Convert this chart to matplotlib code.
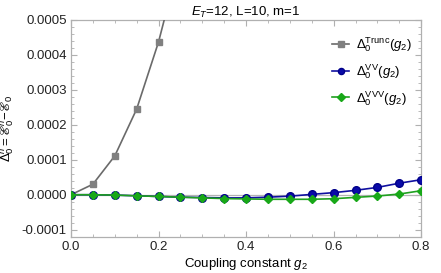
import numpy as np
import matplotlib
matplotlib.use("Agg")
from matplotlib import pyplot as plt
from matplotlib.ticker import MultipleLocator, FormatStrFormatter

plt.rcParams['font.family'] = ['Liberation Sans', 'DejaVu Sans']
plt.rcParams['mathtext.fontset'] = 'custom'
plt.rcParams['mathtext.rm'] = 'Liberation Sans'
plt.rcParams['mathtext.it'] = 'Liberation Sans:italic'
plt.rcParams['mathtext.fallback'] = 'stixsans'

g2 = [0.0, 0.05, 0.1, 0.15, 0.2, 0.25, 0.3, 0.35, 0.4, 0.45, 0.5, 0.55, 0.6, 0.65, 0.7, 0.75, 0.8]
trunc_g2 = [0.0, 0.05, 0.1, 0.15, 0.2, 0.25]
trunc = [0.0, 0.00003, 0.000111, 0.000245, 0.000437, 0.00068]
vv = [0.0, 0.0, -0.000001, -0.000003, -0.000005, -0.000007, -0.000008, -0.000009, -0.000009,
      -0.000007, -0.000004, 0.000001, 0.000006, 0.0000126, 0.000021, 0.000033, 0.000043]
vvv = [0.0, 0.0, -0.000001, -0.000003, -0.000005, -0.000007, -0.000009, -0.000011, -0.000012,
       -0.000013, -0.000013, -0.000013, -0.0000114, -0.0000075, -0.0000037, 0.000002, 0.0000115]

fig = plt.figure(figsize=(4.41, 2.73), dpi=100)
ax = fig.add_axes([0.161, 0.133, 0.794, 0.794])

ax.axhline(0, color='#b4b4b4', lw=0.9, zorder=1)
ax.plot(trunc_g2, trunc, color='#6a6a6a', lw=1.2, marker='s', ms=5, mfc='#808080', mec='#808080',
        label=r'$\Delta_0^{\mathrm{Trunc}}(g_2)$', zorder=3)
ax.plot(g2, vv, color='#1010a0', lw=1.2, marker='o', ms=5.5, mfc='#0a0aa8', mec='#00008a',
        label=r'$\Delta_0^{\mathrm{VV}}(g_2)$', zorder=4)
ax.plot(g2, vvv, color='#20a020', lw=1.2, marker='D', ms=4.5, mfc='#18a818', mec='#18a818',
        label=r'$\Delta_0^{\mathrm{VVV}}(g_2)$', zorder=5)

ax.set_xlim(0, 0.8)
ax.set_ylim(-0.00012, 0.0005)
ax.xaxis.set_major_locator(MultipleLocator(0.2))
ax.xaxis.set_minor_locator(MultipleLocator(0.05))
ax.yaxis.set_major_locator(MultipleLocator(0.0001))
ax.yaxis.set_minor_locator(MultipleLocator(0.00002))
ax.xaxis.set_major_formatter(FormatStrFormatter('%.1f'))
ax.yaxis.set_major_formatter(FormatStrFormatter('%.4f'))
ax.tick_params(which='both', direction='in', top=True, right=True, color='#b0b0b0',
               labelsize=9.5, labelcolor='#222222', pad=3)
ax.tick_params(which='major', length=4, width=0.8)
ax.tick_params(which='minor', length=2, width=0.6)
for s in ax.spines.values():
    s.set_color('#b0b0b0')
    s.set_linewidth(0.9)

ax.set_xlabel(r'Coupling constant $g_2$', fontsize=9.5, labelpad=2)
ax.set_ylabel('$\\Delta_0^n = \u2130_0^n\\!-\\!\u2130_0$', fontsize=9.5, labelpad=4)
ax.set_title(r'$E_T$=12, L=10, m=1', fontsize=9.5, pad=3)

ax.legend(loc='upper right', frameon=False, fontsize=9.5, handlelength=1.3, handletextpad=0.5,
          borderaxespad=0.3, labelspacing=0.6, bbox_to_anchor=(1.0, 0.97), markerscale=0.8)

fig.savefig('out.png', dpi=100)
